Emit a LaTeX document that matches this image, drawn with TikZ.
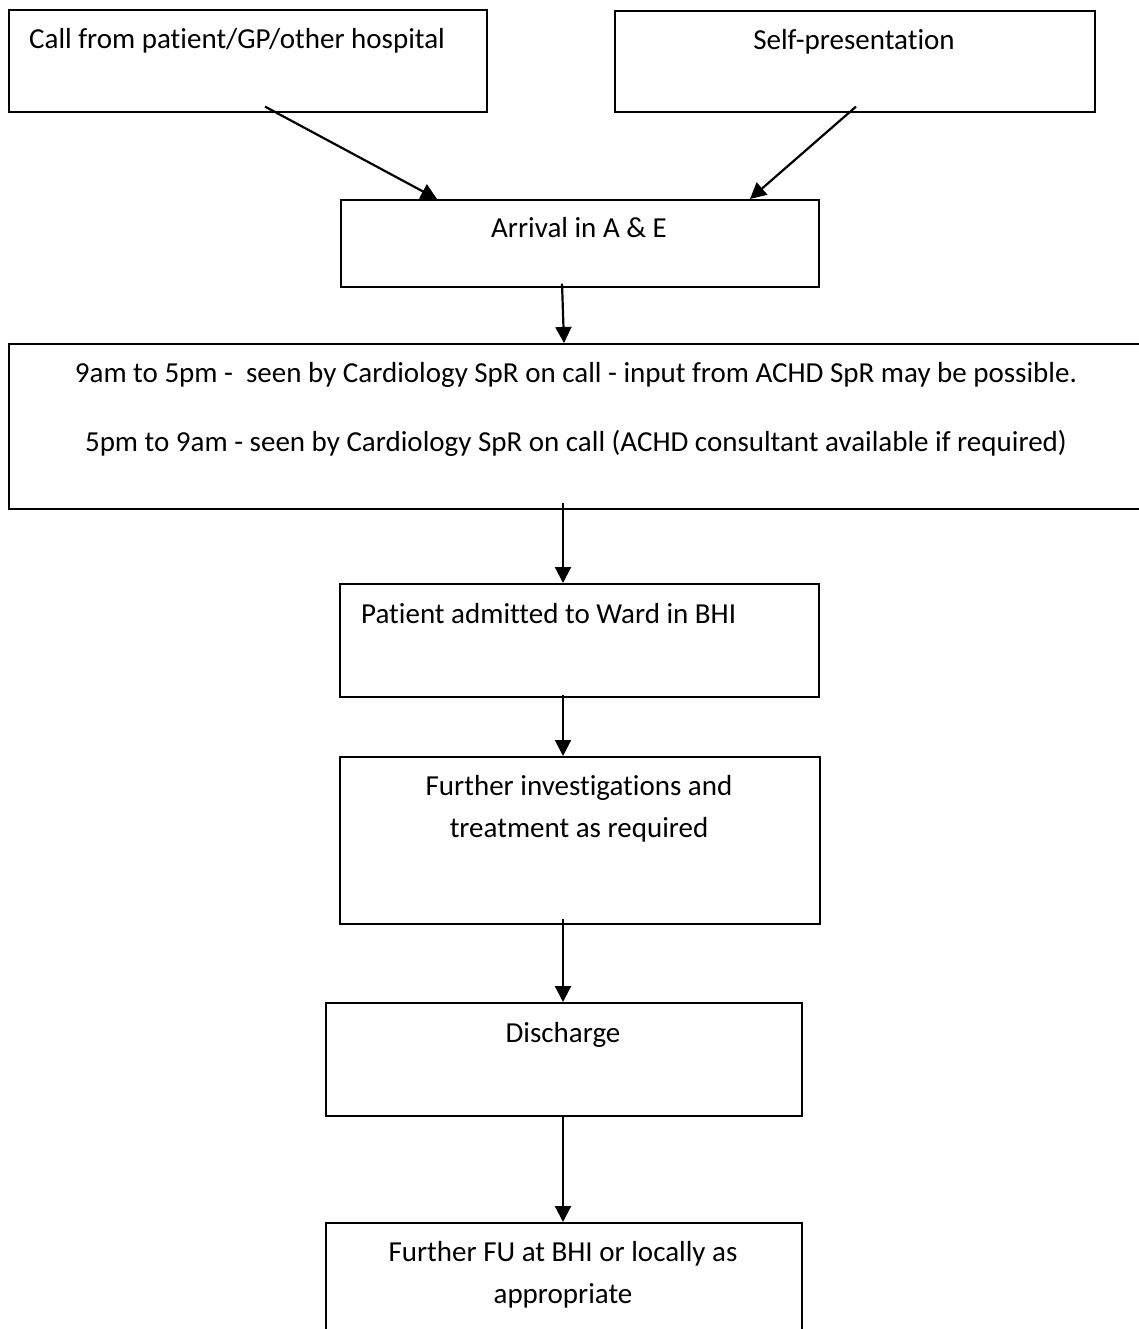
\documentclass[tikz,border=0pt]{standalone}
\usepackage{fontspec}
\setmainfont{Carlito}[Ligatures={NoCommon}]
\usetikzlibrary{arrows.meta}
\tikzset{
  boxnode/.style={draw, line width=1.6pt, inner sep=0pt, anchor=north west},
  txt/.style={font=\fontsize{29}{35}\selectfont, inner sep=0pt, anchor=base},
  txtw/.style={txt, anchor=base west},
  arr/.style={line width=2.2pt, -{Triangle[width=16pt,length=16pt]}},
}
\begin{document}
\begin{tikzpicture}[x=1pt,y=-1pt]
\useasboundingbox (0,0) rectangle (1138,1329);
\fill[white] (0,0) rectangle (1138,1329);
% boxes
\node[boxnode, minimum width=478pt, minimum height=102pt] (call) at (8,9) {};
\node[boxnode, minimum width=480pt, minimum height=101pt] (self) at (614,10) {};
\node[boxnode, minimum width=478pt, minimum height=87pt] (arrival) at (340,199) {};
\node[boxnode, minimum width=1136pt, minimum height=165pt] (assess) at (8,343) {};
\node[boxnode, minimum width=479pt, minimum height=113pt] (ward) at (339,583) {};
\node[boxnode, minimum width=480pt, minimum height=167pt] (invest) at (339,756) {};
\node[boxnode, minimum width=476pt, minimum height=113pt] (disch) at (325,1002) {};
\node[boxnode, minimum width=476pt, minimum height=130pt] (fu) at (325,1222) {};
% texts
\node[txtw] (tcall) at (29,49) {Call from patient/GP/other hospital};
\node[txt] (tself) at (854,50) {Self-presentation};
\node[txt] (tarr) at (579,238) {Arrival in A \& E};
\node[txt] (tas1) at (576,382) {9am to 5pm -\ \ seen by Cardiology SpR on call - input from ACHD SpR may be possible.};
\node[txt] (tas2) at (576,451) {5pm to 9am - seen by Cardiology SpR on call (ACHD consultant available if required)};
\node[txtw] (tward) at (361,623) {Patient admitted to Ward in BHI};
\node[txt] (tinv1) at (579,795) {Further investigations and};
\node[txt] (tinv2) at (579,837) {treatment as required};
\node[txt] (tdis) at (563,1042) {Discharge};
\node[txt] (tfu1) at (563,1261) {Further FU at BHI or locally as};
\node[txt] (tfu2) at (563,1303) {appropriate};
% arrows
\draw[arr] ([xshift=257pt,yshift=6pt]call.south west) -- ([xshift=97pt]arrival.north west);
\draw[arr] ([xshift=242pt,yshift=6pt]self.south west) -- ([xshift=410pt]arrival.north west);
\draw[arr] ([xshift=222pt,yshift=4pt]arrival.south west) -- ([xshift=556pt]assess.north west);
\draw[arr] ([xshift=555pt,yshift=7pt]assess.south west) -- ([xshift=224pt]ward.north west);
\draw[arr] ([xshift=224pt,yshift=3pt]ward.south west) -- ([xshift=224pt]invest.north west);
\draw[arr] ([xshift=224pt,yshift=6pt]invest.south west) -- ([xshift=238pt]disch.north west);
\draw[arr] ([xshift=238pt,yshift=2pt]disch.south west) -- ([xshift=238pt]fu.north west);
\end{tikzpicture}
\end{document}
